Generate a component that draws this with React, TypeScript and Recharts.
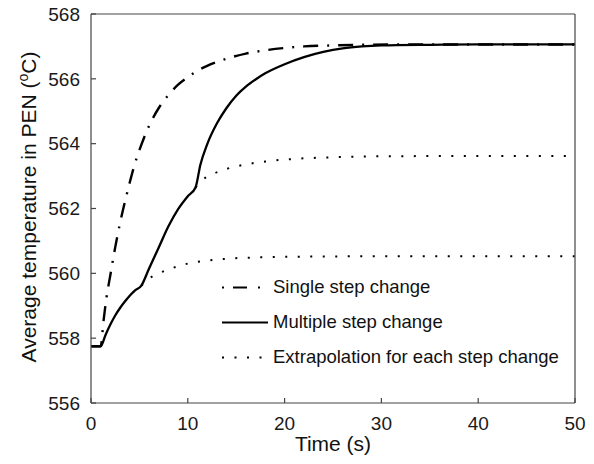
import { LineChart, Line, XAxis, YAxis, Legend, Label } from "recharts";

// single step change (dash-dot)
const singleTime = [0, 1, 1.3, 1.6, 2, 2.5, 3, 3.5, 4, 4.5, 5, 5.5, 6, 7, 8, 9, 10, 11, 12, 14, 16, 18, 20, 22, 25, 28, 32, 40, 50];
const singleTemp = [557.75, 557.75, 558.55, 559.25, 559.95, 560.8, 561.55, 562.2, 562.8, 563.35, 563.8, 564.2, 564.55, 565.1, 565.5, 565.82, 566.05, 566.25, 566.4, 566.62, 566.78, 566.88, 566.95, 567.0, 567.03, 567.05, 567.06, 567.06, 567.06];

// multiple step change (solid)
const multiTime = [0, 1, 1.5, 2, 2.5, 3, 3.5, 4, 4.5, 5.2, 6, 7, 8, 9, 10, 10.8, 11.3, 12, 13, 14, 15, 16, 17, 18, 20, 22, 24, 26, 28, 30, 35, 40, 50];
const multiTemp = [557.75, 557.75, 558.1, 558.42, 558.7, 558.93, 559.13, 559.31, 559.46, 559.62, 560.15, 560.8, 561.45, 561.98, 562.38, 562.65, 563.35, 563.98, 564.62, 565.1, 565.48, 565.76, 565.98, 566.17, 566.45, 566.67, 566.83, 566.94, 567.0, 567.03, 567.05, 567.06, 567.06];

// extrapolation after first step (dotted, lower)
const lowTime = [5.2, 6, 7, 8, 9, 10, 12, 14, 17, 20, 25, 30, 40, 50];
const lowTemp = [559.62, 559.84, 560.0, 560.12, 560.22, 560.3, 560.39, 560.45, 560.49, 560.51, 560.52, 560.53, 560.53, 560.53];

// extrapolation after second step (dotted, upper)
const upTime = [10.8, 11.5, 12.5, 14, 16, 18, 21, 25, 30, 40, 50];
const upTemp = [562.65, 562.88, 563.05, 563.22, 563.36, 563.45, 563.53, 563.58, 563.61, 563.62, 563.62];

const xTicks = [0, 10, 20, 30, 40, 50];
const yTicks = [556, 558, 560, 562, 564, 566, 568];
const legendLabels = ["Single step change", "Multiple step change", "Extrapolation for each step change"];

const FONT = '"Liberation Sans", Arial, Helvetica, sans-serif';
const AXIS = "#444";

const toPoints = (ts: number[], vs: number[]) => ts.map((t, i) => ({ t, v: vs[i] }));

const legendDash = ["2 9 14 11 2 100", "", "2 10.5"];

function LegendBox() {
  return (
    <div style={{ fontFamily: FONT, fontSize: 18.5, color: "#111" }}>
      {legendLabels.map((name, i) => (
        <div key={name} style={{ display: "flex", alignItems: "center", height: 35 }}>
          <svg width={51} height={35}>
            <line
              x1={0}
              x2={i === 2 ? 42 : 46}
              y1={17.5}
              y2={17.5}
              stroke="#000"
              strokeWidth={2.2}
              strokeDasharray={legendDash[i] || undefined}
            />
          </svg>
          <span style={{ lineHeight: 1 }}>{name}</span>
        </div>
      ))}
    </div>
  );
}

export default function App() {
  const tickStyle = { fontFamily: FONT, fontSize: 19, fill: "#1a1a1a" };
  return (
    <div style={{ position: "absolute", left: 0, top: 0, background: "#fff" }}>
      <LineChart width={594} height={464} margin={{ top: 13, right: 18, bottom: 13, left: 31 }}>
        <XAxis
          xAxisId="b"
          dataKey="t"
          type="number"
          domain={[0, 50]}
          ticks={xTicks}
          allowDataOverflow
          height={48}
          tickSize={-5}
          tickMargin={19}
          tick={tickStyle}
          stroke={AXIS}
          strokeWidth={1.2}
        >
          <Label
            content={() => (
              <text x={333} y={451} textAnchor="middle" fontFamily={FONT} fontSize={21} fill="#111">
                Time (s)
              </text>
            )}
          />
        </XAxis>
        <XAxis
          xAxisId="top"
          orientation="top"
          dataKey="t"
          type="number"
          domain={[0, 50]}
          ticks={xTicks}
          allowDataOverflow
          height={1}
          tickSize={-5}
          tick={false}
          stroke={AXIS}
          strokeWidth={1.2}
        />
        <YAxis
          yAxisId="l"
          type="number"
          domain={[556, 568]}
          ticks={yTicks}
          allowDataOverflow
          width={60}
          tickSize={-5}
          tickMargin={16}
          tick={tickStyle}
          stroke={AXIS}
          strokeWidth={1.2}
        >
          <Label
            content={() => (
              <text
                x={36}
                y={207}
                transform="rotate(-90 36 207)"
                textAnchor="middle"
                fontFamily={FONT}
                fontSize={21}
                fill="#111"
              >
                Average temperature in PEN (
                <tspan dy={-8} fontSize={14}>o</tspan>
                <tspan dy={8}>C)</tspan>
              </text>
            )}
          />
        </YAxis>
        <YAxis
          yAxisId="r"
          orientation="right"
          type="number"
          domain={[556, 568]}
          ticks={yTicks}
          allowDataOverflow
          width={1}
          tickSize={-5}
          tick={false}
          stroke={AXIS}
          strokeWidth={1.2}
        />
        <Legend
          layout="vertical"
          align="center"
          verticalAlign="middle"
          content={() => <LegendBox />}
          wrapperStyle={{ position: "absolute", left: 222, top: 270, width: 370 }}
        />
        <Line
          xAxisId="b"
          yAxisId="l"
          data={toPoints(lowTime, lowTemp)}
          dataKey="v"
          type="monotone"
          stroke="#000"
          strokeWidth={2}
          strokeDasharray="2 10.5"
          dot={false}
          isAnimationActive={false}
          legendType="none"
        />
        <Line
          xAxisId="b"
          yAxisId="l"
          data={toPoints(upTime, upTemp)}
          dataKey="v"
          type="monotone"
          stroke="#000"
          strokeWidth={2}
          strokeDasharray="2 10.5"
          dot={false}
          isAnimationActive={false}
          legendType="none"
        />
        <Line
          xAxisId="b"
          yAxisId="l"
          data={toPoints(singleTime, singleTemp)}
          dataKey="v"
          type="monotone"
          stroke="#000"
          strokeWidth={2.4}
          strokeDasharray="15 9 2 9"
          dot={false}
          isAnimationActive={false}
        />
        <Line
          xAxisId="b"
          yAxisId="l"
          data={toPoints(multiTime, multiTemp)}
          dataKey="v"
          type="monotone"
          stroke="#000"
          strokeWidth={2.3}
          dot={false}
          isAnimationActive={false}
        />
      </LineChart>
    </div>
  );
}
